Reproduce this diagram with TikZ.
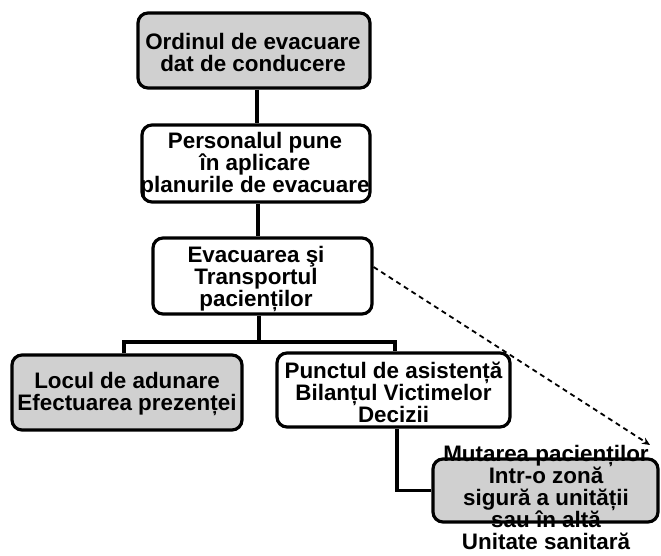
\documentclass[tikz,border=0pt]{standalone}
\usepackage{fontspec}
\setmainfont{Liberation Sans}
\usetikzlibrary{arrows.meta}
\definecolor{boxgray}{RGB}{208,208,208}
\tikzset{
  box/.style={draw=black, line width=3.2pt, rounded corners=10pt, inner sep=0pt},
  graybox/.style={box, fill=boxgray},
  whitebox/.style={box, fill=white},
  txt/.style={align=center, font=\fontsize{22.4}{22}\selectfont\bfseries, inner sep=0pt},
  conn/.style={line width=3.4pt},
  dconn/.style={line width=1.8pt, dash pattern=on 5pt off 4pt, -{Stealth[length=8pt,width=7pt]}}
}
\begin{document}
\begin{tikzpicture}[x=1pt,y=-1pt]
\useasboundingbox (0,0) rectangle (661,556);
% boxes
\node[graybox, minimum width=232pt, minimum height=75pt] (b1) at (254,50.5) {};
\node[txt] (t1) at (253,52) {Ordinul de evacuare\\dat de conducere};
\node[whitebox, minimum width=228pt, minimum height=77pt] (b2) at (256,163.5) {};
\node[txt] (t2) at (255,165) {Personalul pune\\în aplicare\\planurile de evacuare};
\node[whitebox, minimum width=219pt, minimum height=76pt] (b3) at (262.5,276) {};
\node[txt] (t3) at (256,279) {Evacuarea şi\\Transportul\\pacienților};
\node[graybox, minimum width=230pt, minimum height=75pt] (b4) at (127,392.5) {};
\node[txt] (t4) at (127,394) {Locul de adunare\\Efectuarea prezenței};
\node[whitebox, minimum width=233pt, minimum height=74pt] (b5) at (393.5,390) {};
\node[txt] (t5) at (393.5,392) {Punctul de asistență\\Bilanțul Victimelor\\Decizii};
\node[graybox, minimum width=225pt, minimum height=63pt] (b6) at (545.5,490.5) {};
\node[txt] (t6) at (546,497) {Mutarea pacienților\\Intr-o zonă\\sigură a unității\\sau în altă\\Unitate sanitară};
% connectors
\draw[conn] (b1.south -| 257,0) -- (b2.north -| 257,0);
\draw[conn] (b2.south -| 258,0) -- (b3.north -| 258,0);
\coordinate (j) at (259,342);
\draw[conn] (b3.south -| j) -- (j);
\draw[conn] (b4.north -| 124,0) |- (j) -| (b5.north -| 395,0);
\draw[conn] (b5.south -| 397,0) |- (b6.west);
\coordinate (dend) at (650,445);
\draw[dconn] (b3.east |- 0,267) -- (dend);
\end{tikzpicture}
\end{document}
